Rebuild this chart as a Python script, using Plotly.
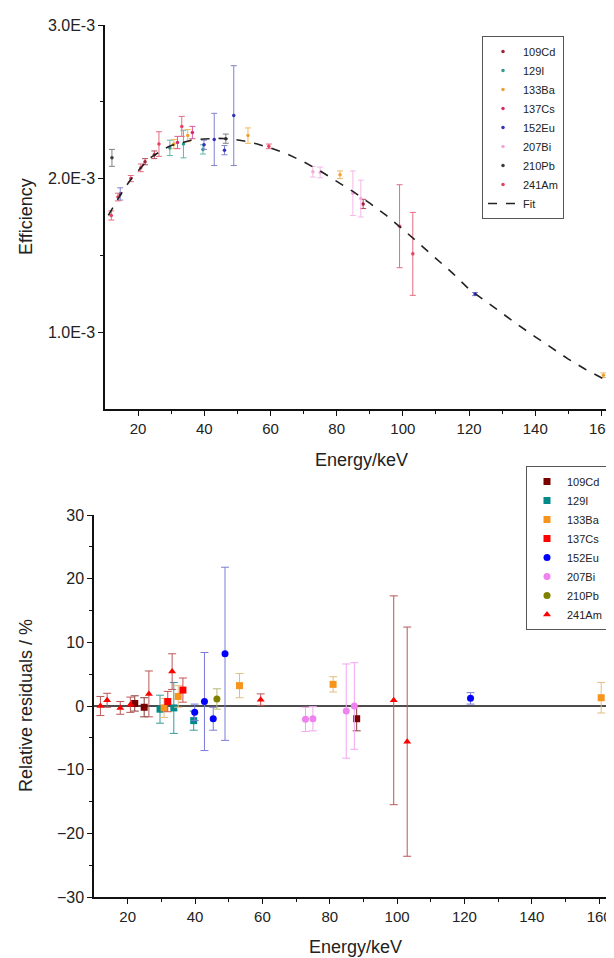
import plotly.graph_objects as go

# ---------------- data ----------------
nuclides = ["109Cd", "129I", "133Ba", "137Cs", "152Eu", "207Bi", "210Pb", "241Am"]

# Top panel: efficiency (x1e-3) vs energy (keV)
top_E = {
    "109Cd": [22.1, 24.9, 88.0],
    "129I": [29.6, 33.7, 39.6],
    "133Ba": [30.8, 35.0, 53.2, 81.0, 160.6],
    "137Cs": [31.9, 36.4],
    "152Eu": [14.6, 39.9, 43.0, 46.1, 48.9, 121.8],
    "207Bi": [72.8, 75.0, 84.9, 87.3],
    "210Pb": [12.1, 46.5],
    "241Am": [11.9, 13.9, 17.8, 20.8, 26.3, 33.2, 59.5, 99.0, 103.0],
}
top_eff = {
    "109Cd": [2.11, 2.155, 1.835],
    "129I": [2.20, 2.225, 2.19],
    "133Ba": [2.225, 2.28, 2.28, 2.025, 0.72],
    "137Cs": [2.235, 2.30],
    "152Eu": [1.90, 2.22, 2.255, 2.185, 2.41, 1.248],
    "207Bi": [2.045, 2.04, 1.905, 1.87],
    "210Pb": [2.135, 2.26],
    "241Am": [1.76, 1.88, 2.0, 2.07, 2.225, 2.34, 2.21, 1.69, 1.51],
}
top_err = {
    "109Cd": [0.02, 0.025, 0.03],
    "129I": [0.05, 0.09, 0.03],
    "133Ba": [0.03, 0.04, 0.05, 0.025, 0.015],
    "137Cs": [0.04, 0.04],
    "152Eu": [0.04, 0.03, 0.17, 0.03, 0.325, 0.01],
    "207Bi": [0.035, 0.035, 0.145, 0.12],
    "210Pb": [0.055, 0.03],
    "241Am": [0.03, 0.025, 0.02, 0.025, 0.08, 0.065, 0.015, 0.27, 0.27],
}

fit_E = [11, 12, 14, 16, 18, 20, 22, 24, 26, 28, 30, 33, 36, 40, 44, 48, 52, 56,
         60, 65, 70, 75, 80, 85, 90, 95, 100, 105, 110, 115, 120, 125, 130, 135,
         140, 145, 150, 155, 160, 163]
fit_eff = [1.76, 1.80, 1.87, 1.94, 2.00, 2.05, 2.10, 2.14, 2.17, 2.195, 2.215, 2.235,
           2.25, 2.258, 2.262, 2.258, 2.245, 2.225, 2.20, 2.16, 2.11, 2.05, 1.985,
           1.915, 1.84, 1.76, 1.67, 1.575, 1.48, 1.385, 1.28, 1.20, 1.12, 1.045,
           0.97, 0.895, 0.825, 0.76, 0.705, 0.67]

# Bottom panel: relative residuals (%) vs energy (keV)
res_E = {
    "109Cd": [22.1, 24.9, 88.0],
    "129I": [29.6, 33.7, 39.6],
    "133Ba": [30.8, 35.0, 53.2, 81.0, 160.6],
    "137Cs": [31.9, 36.4],
    "152Eu": [39.9, 42.8, 45.4, 48.9, 121.8],
    "207Bi": [72.8, 75.0, 84.9, 87.3],
    "210Pb": [46.5],
    "241Am": [11.9, 13.9, 17.8, 20.8, 26.3, 33.2, 59.5, 99.0, 103.0],
}
res_val = {
    "109Cd": [0.4, -0.2, -2.0],
    "129I": [-0.5, -0.3, -2.3],
    "133Ba": [-0.3, 1.5, 3.2, 3.4, 1.3],
    "137Cs": [0.7, 2.5],
    "152Eu": [-1.0, 0.7, -2.0, 8.2, 1.2],
    "207Bi": [-2.1, -2.0, -0.8, 0.0],
    "210Pb": [1.1],
    "241Am": [0.0, 0.9, -0.3, 0.2, 1.9, 5.4, 1.0, 0.9, -5.6],
}
res_err = {
    "109Cd": [1.2, 1.5, 1.9],
    "129I": [2.2, 4.0, 1.5],
    "133Ba": [1.5, 1.7, 1.9, 1.2, 2.4],
    "137Cs": [1.6, 1.9],
    "152Eu": [1.3, 7.7, 1.8, 13.6, 0.9],
    "207Bi": [1.9, 1.9, 7.4, 6.8],
    "210Pb": [1.6],
    "241Am": [1.5, 1.1, 1.0, 1.2, 3.6, 2.8, 0.9, 16.4, 18.0],
}

# ---------------- styles ----------------
top_color = {"109Cd": "#a3203c", "129I": "#2f9a8e", "133Ba": "#f0a030", "137Cs": "#d62c6c",
             "152Eu": "#3232b8", "207Bi": "#f2a8dc", "210Pb": "#3c3c3c", "241Am": "#e8405e"}
top_bar = {"109Cd": "#b8485c", "129I": "#5fb8aa", "133Ba": "#f2b860", "137Cs": "#e0589a",
           "152Eu": "#8080d0", "207Bi": "#f3b8e6", "210Pb": "#808080", "241Am": "#e46c80"}
bot_color = {"109Cd": "#7a0000", "129I": "#008a8a", "133Ba": "#f7941d", "137Cs": "#ff0000",
             "152Eu": "#0000ff", "207Bi": "#ee82ee", "210Pb": "#808000", "241Am": "#ff0000"}
bot_bar = {"109Cd": "#8b3a3a", "129I": "#3a9a9a", "133Ba": "#e8bc80", "137Cs": "#c85050",
           "152Eu": "#7b7bd8", "207Bi": "#f2a6f2", "210Pb": "#b8b878", "241Am": "#b85858"}
bot_symbol = {"109Cd": "square", "129I": "square", "133Ba": "square", "137Cs": "square",
              "152Eu": "circle", "207Bi": "circle", "210Pb": "circle", "241Am": "triangle-up"}

FONT = "Liberation Sans, Arial, sans-serif"
W, H = 614, 958

fig = go.Figure()

for n in nuclides:
    fig.add_trace(go.Scatter(
        x=top_E[n], y=[v * 1e-3 for v in top_eff[n]],
        error_y=dict(type="data", array=[e * 1e-3 for e in top_err[n]],
                     color=top_bar[n], thickness=1, width=3),
        mode="markers", marker=dict(size=3.5, color=top_color[n]),
        name=n, xaxis="x", yaxis="y", legend="legend"))

fig.add_trace(go.Scatter(
    x=fit_E, y=[v * 1e-3 for v in fit_eff], mode="lines",
    line=dict(color="#222222", width=1.6, dash="dash"),
    name="Fit", xaxis="x", yaxis="y", legend="legend"))

for n in nuclides:
    fig.add_trace(go.Scatter(
        x=res_E[n], y=res_val[n],
        error_y=dict(type="data", array=res_err[n], color=bot_bar[n], thickness=1, width=4),
        mode="markers",
        marker=dict(size=7, color=bot_color[n], symbol=bot_symbol[n]),
        name=n, xaxis="x2", yaxis="y2", legend="legend2"))

def px_x(p):
    return p / W

def px_y(p):
    return 1 - p / H

axis_common = dict(showline=True, linecolor="#111111", linewidth=1.5, showgrid=False,
                   zeroline=False, ticks="outside", ticklen=5, tickwidth=1.2,
                   tickcolor="#111111", automargin=False)
yfont = dict(family=FONT, size=16, color="#222222")
xfont = dict(family=FONT, size=15, color="#222222")
xminor = dict(ticks="outside", ticklen=3, tickcolor="#111111",
              tickmode="array", tickvals=[30, 50, 70, 90, 110, 130, 150])
xticks = [20, 40, 60, 80, 100, 120, 140, 160]

def title_ann(text, x, y, angle=0):
    return dict(text=text, textangle=angle, x=px_x(x), y=px_y(y), xref="paper",
                yref="paper", xanchor="center", yanchor="middle", showarrow=False,
                font=dict(family=FONT, size=18, color="#222222"))

fig.update_layout(
    width=W, height=H,
    margin=dict(l=0, r=0, t=0, b=0),
    paper_bgcolor="white", plot_bgcolor="white",
    font=dict(family=FONT, color="#222222"),
    xaxis=dict(domain=[px_x(97), px_x(610)], range=[10, 165], anchor="y",
               tickmode="array", tickvals=xticks, minor=xminor, tickfont=xfont,
               **axis_common),
    yaxis=dict(domain=[px_y(401), px_y(17)], range=[0.5e-3, 3.0e-3], anchor="x",
               tickmode="array", tickvals=[1e-3, 2e-3, 3e-3],
               ticktext=["1.0E-3", "2.0E-3", "3.0E-3"],
               minor=dict(ticks="outside", ticklen=3, tickcolor="#111111",
                          tickmode="array", tickvals=[1.5e-3, 2.5e-3]),
               tickfont=yfont, **axis_common),
    xaxis2=dict(domain=[px_x(86), px_x(608)], range=[10, 165], anchor="y2",
                tickmode="array", tickvals=xticks, minor=xminor, tickfont=xfont,
                **axis_common),
    yaxis2=dict(domain=[px_y(889), px_y(507)], range=[-30, 30], anchor="x2",
                tickmode="array", tickvals=[-30, -20, -10, 0, 10, 20, 30],
                minor=dict(ticks="outside", ticklen=3, tickcolor="#111111",
                           tickmode="array", tickvals=[-25, -15, -5, 5, 15, 25]),
                tickfont=yfont, **axis_common),
    legend=dict(x=px_x(474), y=px_y(28), xanchor="left", yanchor="top",
                bordercolor="#555555", borderwidth=1, bgcolor="white",
                font=dict(family=FONT, size=11, color="#222222"),
                itemwidth=30, tracegroupgap=0),
    legend2=dict(x=px_x(518), y=px_y(458), xanchor="left", yanchor="top",
                 bordercolor="#555555", borderwidth=1, bgcolor="white",
                 font=dict(family=FONT, size=11, color="#222222"),
                 itemwidth=30, tracegroupgap=0),
    shapes=[dict(type="line", xref="x2 domain", yref="y2", x0=0, x1=0.985, y0=0, y1=0,
                 line=dict(color="#111111", width=1.3), layer="below")],
    annotations=[
        title_ann("Efficiency", 18, 209, -90),
        title_ann("Energy/keV", 353, 452),
        title_ann("Relative residuals / %", 18, 698, -90),
        title_ann("Energy/keV", 347, 939),
    ],
)

fig.write_html("out.html")
